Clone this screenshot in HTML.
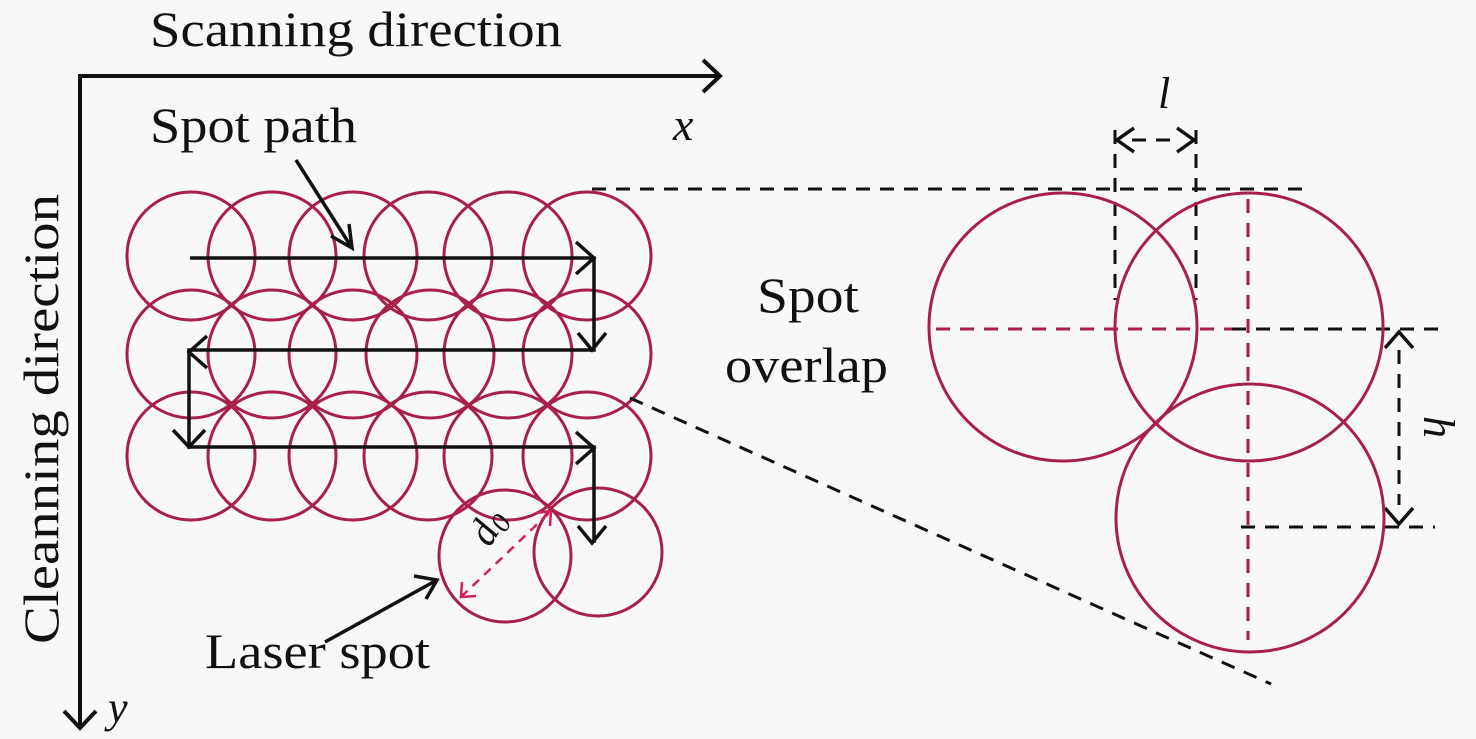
<!DOCTYPE html>
<html><head><meta charset="utf-8"><style>
html,body{margin:0;padding:0;background:#f8f8f8;}
svg{display:block;}
text{font-family:"Liberation Serif",serif;fill:#111;}
</style></head><body>
<svg width="1476" height="739" viewBox="0 0 1476 739" xmlns="http://www.w3.org/2000/svg">
<rect width="1476" height="739" fill="#f8f8f8"/>
<!-- axes -->
<g stroke="#111" stroke-width="4" fill="none">
<path d="M80 76 H720 M80 74 V728"/>
<path d="M703 60 L720 76 L703 92"/>
<path d="M64 711 L80 728 L96 711"/>
</g>
<text x="150" y="46" font-size="50" textLength="412" lengthAdjust="spacingAndGlyphs">Scanning direction</text>
<text x="150" y="142" font-size="50" textLength="207" lengthAdjust="spacingAndGlyphs">Spot path</text>
<text x="673" y="140" font-size="46" font-style="italic">x</text>
<text x="108" y="722" font-size="44" font-style="italic">y</text>
<text transform="translate(58,644) rotate(-90)" font-size="50" textLength="450" lengthAdjust="spacingAndGlyphs">Cleanning direction</text>
<text x="205" y="668" font-size="50" textLength="225" lengthAdjust="spacingAndGlyphs">Laser spot</text>
<text x="757" y="312" font-size="50" textLength="102" lengthAdjust="spacingAndGlyphs">Spot</text>
<text x="725" y="382" font-size="50" textLength="163" lengthAdjust="spacingAndGlyphs">overlap</text>
<!-- circles left -->
<g stroke="#a8204a" stroke-width="3" fill="none">
<circle cx="191" cy="256" r="64"/><circle cx="272" cy="256" r="64"/><circle cx="353" cy="256" r="64"/><circle cx="428" cy="256" r="64"/><circle cx="508" cy="256" r="64"/><circle cx="587" cy="256" r="64"/>
<circle cx="191" cy="354" r="64"/><circle cx="272" cy="354" r="64"/><circle cx="353" cy="354" r="64"/><circle cx="430" cy="354" r="64"/><circle cx="508" cy="354" r="64"/><circle cx="587" cy="354" r="64"/>
<circle cx="191" cy="456" r="64"/><circle cx="272" cy="456" r="64"/><circle cx="353" cy="456" r="64"/><circle cx="428" cy="456" r="64"/><circle cx="508" cy="456" r="64"/><circle cx="587" cy="456" r="64"/>
<circle cx="505" cy="556" r="66"/><circle cx="598" cy="552" r="64"/>
</g>
<!-- path arrows -->
<g stroke="#111" stroke-width="3.5" fill="none">
<path d="M190 258 H594 V350 H189 V447 H594 V543"/>
<path d="M576 242 L594 258 L576 274"/>
<path d="M578 333 L592 350 L606 333"/>
<path d="M207 336 L189 352 L207 368"/>
<path d="M173 430 L189 447 L205 430"/>
<path d="M576 432 L594 448 L576 464"/>
<path d="M578 526 L592 543 L606 526"/>
<path d="M296 160 L352 248 M349 224 L352 248 L331 236"/>
<path d="M325 642 L437 580 M414 576 L437 580 L426 599"/>
</g>
<!-- d0 -->
<g stroke="#d0205a" stroke-width="2.5" fill="none">
<path d="M461 597 L551 511" stroke-dasharray="9 7"/>
<path d="M536 513 L551 511 L550 526"/>
<path d="M462 582 L461 597 L476 596"/>
</g>
<text transform="translate(490,548) rotate(-60)" font-size="40" font-style="italic">d<tspan font-size="28" dy="6">0</tspan></text>
<!-- zoom dashed lines -->
<g stroke="#111" stroke-width="3" fill="none" stroke-dasharray="14 10">
<path d="M592 189 H1305"/>
<path d="M630 398 L1271 684"/>
<path d="M1115 130 V300 M1196 130 V300"/>
<path d="M1232 329 H1440"/>
<path d="M1241 527 H1435"/>
<path d="M1399 350 V505"/>
<path d="M1132 140 H1180"/>
</g>
<g stroke="#a8204a" stroke-width="3" fill="none" stroke-dasharray="14 10">
<path d="M936 329 H1232"/>
<path d="M1248 199 V640"/>
</g>
<g stroke="#111" stroke-width="3.5" fill="none">
<path d="M1134 128 L1117 140 L1134 152"/>
<path d="M1177 128 L1194 140 L1177 152"/>
<path d="M1385 348 L1399 332 L1413 348"/>
<path d="M1385 508 L1399 524 L1413 508"/>
</g>
<text x="1158" y="108" font-size="44" font-style="italic">l</text>
<text transform="translate(1424,416) rotate(90)" font-size="44" font-style="italic">h</text>
<g stroke="#a8204a" stroke-width="3" fill="none">
<circle cx="1063" cy="327" r="134"/>
<circle cx="1249" cy="327" r="134"/>
<circle cx="1250" cy="518" r="134"/>
</g>
</svg>
</body></html>
